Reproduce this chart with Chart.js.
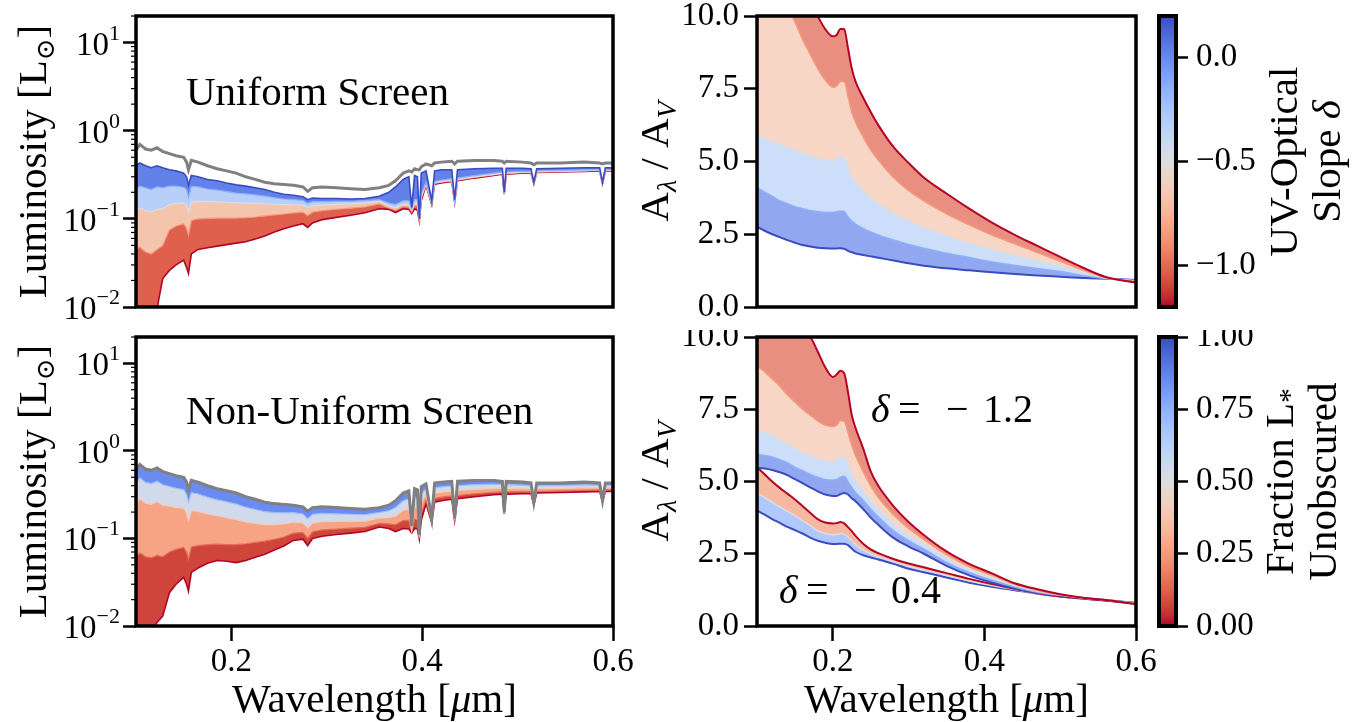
<!DOCTYPE html>
<html>
<head>
<meta charset="utf-8">
<script src="https://cdn.jsdelivr.net/npm/chart.js@4.4.1/dist/chart.umd.min.js"></script>
<style>
  body { margin: 0; background: #fff; }
  #fig { position: relative; width: 1368px; height: 722px; overflow: hidden; background: #fff; }
  #fig canvas { position: absolute; }
</style>
</head>
<body>
<div id="fig">
  <canvas id="uni" width="640" height="330" style="left:0;top:0"></canvas>
  <canvas id="non" width="640" height="392" style="left:0;top:330px"></canvas>
  <canvas id="slope" width="540" height="330" style="left:620px;top:0"></canvas>
  <canvas id="mix" width="540" height="392" style="left:620px;top:330px"></canvas>
  <canvas id="cbSlope" width="228" height="330" style="left:1140px;top:0"></canvas>
  <canvas id="cbFrac" width="228" height="392" style="left:1140px;top:330px"></canvas>
</div>
<script>
// ---- wavelength grid of the spectra (micron) ----
const WAVE = [
  0.100, 0.104, 0.110, 0.116, 0.122, 0.128, 0.135, 0.142, 0.150, 0.153,
  0.155, 0.158, 0.165, 0.175, 0.185, 0.195, 0.205, 0.215, 0.225, 0.235,
  0.245, 0.255, 0.265, 0.275, 0.280, 0.285, 0.295, 0.310, 0.325, 0.340,
  0.355, 0.365, 0.372, 0.380, 0.386, 0.389, 0.392, 0.395, 0.397, 0.399,
  0.404, 0.410, 0.413, 0.420, 0.431, 0.434, 0.437, 0.455, 0.475, 0.484,
  0.486, 0.488, 0.505, 0.514, 0.517, 0.520, 0.545, 0.570, 0.586, 0.589,
  0.592, 0.600
];

// intrinsic (grey) spectrum as drawn in the uniform panel, L_sun
const GRAY_UNI = [
  0.60, 0.70, 0.62, 0.60, 0.64, 0.58, 0.55, 0.52, 0.50, 0.44,
  0.36, 0.46, 0.44, 0.40, 0.37, 0.35, 0.33, 0.30, 0.28, 0.26,
  0.25, 0.245, 0.24, 0.23, 0.205, 0.225, 0.23, 0.225, 0.22, 0.215,
  0.225, 0.24, 0.27, 0.33, 0.35, 0.34, 0.37, 0.36, 0.36, 0.39,
  0.42, 0.40, 0.43, 0.44, 0.45, 0.42, 0.45, 0.46, 0.46, 0.45,
  0.43, 0.45, 0.44, 0.43, 0.41, 0.43, 0.43, 0.44, 0.43, 0.42,
  0.43, 0.43
];
// intrinsic spectrum as drawn in the non-uniform panel (absorption lines resolved)
const GRAY = [
  0.60, 0.70, 0.62, 0.60, 0.64, 0.58, 0.55, 0.52, 0.50, 0.44,
  0.36, 0.46, 0.44, 0.40, 0.37, 0.35, 0.33, 0.30, 0.28, 0.26,
  0.25, 0.245, 0.24, 0.23, 0.205, 0.225, 0.23, 0.225, 0.22, 0.215,
  0.225, 0.24, 0.27, 0.33, 0.35, 0.14, 0.37, 0.36, 0.11, 0.39,
  0.42, 0.17, 0.43, 0.44, 0.45, 0.17, 0.45, 0.46, 0.46, 0.45,
  0.20, 0.45, 0.44, 0.43, 0.26, 0.43, 0.43, 0.44, 0.43, 0.27,
  0.43, 0.43
];

// uniform screen, one spectrum per slope delta
const UNI_LEVELS = [0.2, -0.15, -0.5, -0.85, -1.2];
const UNI_P020 = [
  0.40, 0.43, 0.40, 0.38, 0.40, 0.38, 0.36, 0.35, 0.33, 0.30,
  0.24, 0.31, 0.30, 0.28, 0.27, 0.255, 0.243, 0.235, 0.225, 0.215,
  0.200, 0.190, 0.185, 0.178, 0.165, 0.172, 0.170, 0.170, 0.168, 0.170,
  0.180, 0.200, 0.230, 0.280, 0.300, 0.135, 0.310, 0.300, 0.100, 0.330,
  0.350, 0.160, 0.350, 0.360, 0.360, 0.165, 0.360, 0.370, 0.375, 0.375,
  0.200, 0.375, 0.375, 0.370, 0.260, 0.370, 0.375, 0.380, 0.380, 0.260,
  0.380, 0.380
];
const UNI_M015 = [
  0.220, 0.235, 0.225, 0.215, 0.230, 0.225, 0.235, 0.235, 0.228, 0.215,
  0.174, 0.233, 0.230, 0.218, 0.212, 0.204, 0.196, 0.192, 0.187, 0.181,
  0.173, 0.168, 0.165, 0.161, 0.149, 0.157, 0.157, 0.158, 0.158, 0.161,
  0.165, 0.151, 0.145, 0.160, 0.160, 0.128, 0.165, 0.165, 0.099, 0.190,
  0.260, 0.152, 0.265, 0.275, 0.285, 0.160, 0.290, 0.310, 0.330, 0.340,
  0.195, 0.340, 0.345, 0.345, 0.255, 0.350, 0.355, 0.360, 0.365, 0.255,
  0.365, 0.365
];
const UNI_M050 = [
  0.125, 0.132, 0.125, 0.120, 0.128, 0.130, 0.145, 0.150, 0.152, 0.140,
  0.120, 0.155, 0.158, 0.157, 0.156, 0.154, 0.152, 0.151, 0.150, 0.148,
  0.146, 0.145, 0.1445, 0.143, 0.133, 0.141, 0.143, 0.146, 0.148, 0.152,
  0.158, 0.141, 0.133, 0.147, 0.145, 0.124, 0.150, 0.150, 0.098, 0.180,
  0.250, 0.150, 0.257, 0.265, 0.275, 0.158, 0.280, 0.300, 0.320, 0.330,
  0.193, 0.330, 0.338, 0.338, 0.253, 0.343, 0.348, 0.353, 0.358, 0.253,
  0.358, 0.358
];
const UNI_M085 = [
  0.045, 0.048, 0.042, 0.040, 0.045, 0.050, 0.075, 0.083, 0.088, 0.078,
  0.065, 0.096, 0.100, 0.101, 0.102, 0.102, 0.102, 0.103, 0.105, 0.108,
  0.111, 0.1135, 0.117, 0.119, 0.109, 0.119, 0.124, 0.1285, 0.132, 0.137,
  0.148, 0.133, 0.125, 0.138, 0.136, 0.120, 0.140, 0.140, 0.097, 0.170,
  0.245, 0.148, 0.252, 0.260, 0.270, 0.156, 0.275, 0.295, 0.315, 0.325,
  0.191, 0.325, 0.334, 0.334, 0.251, 0.339, 0.344, 0.349, 0.354, 0.251,
  0.354, 0.354
];
const UNI_M120 = [
  0.008, 0.009, 0.008, 0.009, 0.0095, 0.021, 0.026, 0.030, 0.034, 0.028,
  0.024, 0.040, 0.045, 0.047, 0.049, 0.051, 0.053, 0.055, 0.059, 0.064,
  0.071, 0.077, 0.083, 0.088, 0.080, 0.090, 0.098, 0.104, 0.110, 0.117,
  0.130, 0.128, 0.118, 0.130, 0.128, 0.115, 0.130, 0.125, 0.095, 0.160,
  0.240, 0.145, 0.247, 0.255, 0.265, 0.154, 0.270, 0.290, 0.310, 0.320,
  0.190, 0.320, 0.330, 0.330, 0.250, 0.335, 0.340, 0.345, 0.350, 0.250,
  0.350, 0.350
];

// non-uniform screen, one spectrum per unobscured fraction (1.0 is GRAY)
const NON_LEVELS = [1, 0.7, 0.4, 0.15, 0];
const NON_F070 = [
  0.423, 0.493, 0.437, 0.423, 0.451, 0.410, 0.392, 0.373, 0.361, 0.317,
  0.260, 0.334, 0.322, 0.296, 0.276, 0.262, 0.247, 0.227, 0.214, 0.202,
  0.197, 0.196, 0.197, 0.190, 0.168, 0.188, 0.193, 0.191, 0.189, 0.187,
  0.198, 0.207, 0.225, 0.270, 0.283, 0.133, 0.298, 0.290, 0.106, 0.321,
  0.369, 0.164, 0.379, 0.389, 0.399, 0.167, 0.400, 0.412, 0.417, 0.411,
  0.197, 0.411, 0.406, 0.399, 0.254, 0.400, 0.402, 0.410, 0.405, 0.267,
  0.405, 0.405
];
const NON_F040 = [
  0.245, 0.285, 0.253, 0.245, 0.263, 0.240, 0.234, 0.226, 0.222, 0.194,
  0.159, 0.208, 0.204, 0.191, 0.182, 0.173, 0.164, 0.154, 0.149, 0.144,
  0.144, 0.147, 0.153, 0.151, 0.132, 0.150, 0.156, 0.157, 0.157, 0.158,
  0.171, 0.174, 0.180, 0.210, 0.217, 0.125, 0.226, 0.221, 0.103, 0.252,
  0.318, 0.158, 0.328, 0.338, 0.348, 0.164, 0.351, 0.364, 0.373, 0.372,
  0.194, 0.372, 0.371, 0.367, 0.248, 0.370, 0.373, 0.380, 0.379, 0.264,
  0.379, 0.379
];
const NON_F015 = [
  0.062, 0.068, 0.062, 0.060, 0.064, 0.062, 0.070, 0.075, 0.079, 0.070,
  0.058, 0.080, 0.083, 0.085, 0.086, 0.085, 0.085, 0.087, 0.090, 0.093,
  0.098, 0.104, 0.115, 0.117, 0.100, 0.119, 0.125, 0.128, 0.131, 0.134,
  0.149, 0.147, 0.143, 0.160, 0.161, 0.119, 0.166, 0.163, 0.100, 0.195,
  0.276, 0.153, 0.286, 0.296, 0.306, 0.162, 0.310, 0.324, 0.337, 0.340,
  0.192, 0.340, 0.342, 0.341, 0.243, 0.345, 0.349, 0.355, 0.358, 0.262,
  0.358, 0.358
];
const NON_F000 = [
  0.008, 0.008, 0.009, 0.0085, 0.011, 0.013, 0.024, 0.030, 0.036, 0.030,
  0.025, 0.041, 0.046, 0.052, 0.056, 0.055, 0.053, 0.056, 0.061, 0.066,
  0.074, 0.082, 0.095, 0.098, 0.083, 0.100, 0.106, 0.111, 0.115, 0.120,
  0.135, 0.130, 0.120, 0.130, 0.128, 0.115, 0.130, 0.128, 0.098, 0.160,
  0.250, 0.150, 0.260, 0.270, 0.280, 0.160, 0.285, 0.300, 0.315, 0.320,
  0.190, 0.320, 0.325, 0.325, 0.240, 0.330, 0.335, 0.340, 0.345, 0.260,
  0.345, 0.345
];

// ---- attenuation curves A_lambda / A_V ----
const AX_WAVE = [
  0.10, 0.11, 0.12, 0.13, 0.14, 0.15, 0.16, 0.17,
  0.18, 0.19, 0.20, 0.205, 0.21, 0.215, 0.22, 0.225,
  0.23, 0.24, 0.25, 0.26, 0.28, 0.30, 0.32, 0.35,
  0.38, 0.41, 0.44, 0.47, 0.50, 0.53, 0.56, 0.60
];
const SLOPE_LEVELS = [-1.2, -0.85, -0.5, -0.15, 0.2];
const SLOPE_M120 = [
  16, 15, 14, 13.3, 12.5, 11.8, 11.1, 10.5,
  10.0, 9.55, 9.3, 9.35, 9.55, 9.55, 8.9, 8.2,
  7.75, 7.2, 6.7, 6.25, 5.5, 4.95, 4.45, 3.9,
  3.38, 2.9, 2.48, 2.1, 1.72, 1.35, 1.03, 0.84
];
const SLOPE_M085 = [
  13, 12.2, 11.5, 10.9, 10.3, 9.8, 9.2, 8.7,
  8.2, 7.8, 7.55, 7.6, 7.75, 7.75, 7.25, 6.7,
  6.35, 5.85, 5.4, 5.05, 4.45, 4.0, 3.65, 3.2,
  2.82, 2.47, 2.17, 1.87, 1.57, 1.27, 1.02, 0.87
];
const SLOPE_M050 = [
  5.9, 5.8, 5.7, 5.6, 5.5, 5.4, 5.3, 5.2,
  5.12, 5.05, 5.05, 5.1, 5.18, 5.15, 4.85, 4.5,
  4.3, 4.0, 3.75, 3.55, 3.22, 2.97, 2.74, 2.45,
  2.2, 1.98, 1.78, 1.6, 1.42, 1.2, 1.0, 0.9
];
const SLOPE_M015 = [
  4.1, 3.95, 3.8, 3.65, 3.55, 3.45, 3.38, 3.32,
  3.28, 3.25, 3.25, 3.27, 3.3, 3.28, 3.1, 2.95,
  2.85, 2.7, 2.58, 2.48, 2.3, 2.15, 2.02, 1.85,
  1.7, 1.55, 1.43, 1.32, 1.22, 1.08, 0.98, 0.91
];
const SLOPE_P020 = [
  2.76, 2.62, 2.5, 2.4, 2.3, 2.21, 2.13, 2.08,
  2.04, 2.02, 2.01, 2.01, 2.02, 2.0, 1.93, 1.88,
  1.84, 1.79, 1.74, 1.69, 1.6, 1.5, 1.42, 1.33,
  1.26, 1.19, 1.13, 1.08, 1.04, 1.0, 0.97, 0.93
];

// mixed screens: delta = -1.2 family and delta = -0.4 family, by unobscured fraction
const MIX12_LEVELS = [0, 0.25, 0.5, 0.75, 1];
const MIX12_F000 = [
  13, 12.4, 11.8, 11.3, 10.8, 10.4, 10.1, 10.0,
  9.5, 8.95, 8.62, 8.7, 8.83, 8.75, 8.1, 7.3,
  6.85, 6.15, 5.35, 4.85, 4.15, 3.6, 3.15, 2.58,
  2.15, 1.82, 1.48, 1.27, 1.1, 0.98, 0.9, 0.76
];
const MIX12_F025 = [
  9.0, 8.8, 8.55, 8.3, 8.0, 7.75, 7.5, 7.3,
  7.1, 6.95, 6.9, 6.95, 7.1, 7.08, 6.7, 6.25,
  5.9, 5.35, 4.85, 4.45, 3.85, 3.38, 3.0, 2.47,
  2.05, 1.75, 1.44, 1.23, 1.08, 0.97, 0.9, 0.77
];
const MIX12_F050 = [
  6.8, 6.7, 6.6, 6.45, 6.3, 6.15, 6.0, 5.9,
  5.8, 5.72, 5.7, 5.75, 5.85, 5.85, 5.6, 5.3,
  5.05, 4.7, 4.35, 4.05, 3.55, 3.15, 2.85, 2.35,
  1.95, 1.67, 1.4, 1.2, 1.07, 0.97, 0.9, 0.78
];
const MIX12_F075 = [
  5.95, 5.9, 5.85, 5.75, 5.65, 5.5, 5.38, 5.25,
  5.15, 5.07, 5.05, 5.07, 5.15, 5.18, 5.0, 4.8,
  4.62, 4.35, 4.05, 3.78, 3.3, 2.95, 2.67, 2.2,
  1.85, 1.58, 1.35, 1.17, 1.06, 0.97, 0.9, 0.79
];
const MIX12_F100 = [
  5.47, 5.45, 5.4, 5.32, 5.22, 5.08, 4.94, 4.8,
  4.66, 4.55, 4.5, 4.5, 4.56, 4.6, 4.55, 4.42,
  4.32, 4.05, 3.75, 3.5, 3.05, 2.75, 2.5, 2.08,
  1.75, 1.5, 1.3, 1.15, 1.05, 0.97, 0.9, 0.8
];
const MIX04_LEVELS = [0, 0.5, 1];
const MIX04_F000 = [
  5.5, 5.25, 5.0, 4.78, 4.58, 4.38, 4.15, 3.92,
  3.7, 3.58, 3.55, 3.56, 3.6, 3.55, 3.42, 3.28,
  3.12, 2.85, 2.65, 2.52, 2.32, 2.16, 2.03, 1.83,
  1.63, 1.45, 1.29, 1.13, 1.02, 0.95, 0.88, 0.77
];
const MIX04_F050 = [
  4.6, 4.45, 4.28, 4.12, 3.97, 3.82, 3.65, 3.48,
  3.3, 3.2, 3.16, 3.17, 3.2, 3.18, 3.08, 2.95,
  2.82, 2.63, 2.5, 2.4, 2.23, 2.07, 1.94, 1.75,
  1.56, 1.4, 1.26, 1.12, 1.02, 0.95, 0.88, 0.78
];
const MIX04_F100 = [
  4.0, 3.85, 3.7, 3.57, 3.43, 3.32, 3.2, 3.06,
  2.95, 2.88, 2.84, 2.84, 2.85, 2.85, 2.8, 2.68,
  2.57, 2.45, 2.37, 2.3, 2.15, 1.98, 1.86, 1.68,
  1.5, 1.36, 1.24, 1.12, 1.02, 0.95, 0.88, 0.8
];

// ---- axes ----
const WAVE_RANGE = [0.1, 0.6];
const WAVE_TICKS = [0.2, 0.4, 0.6];
const LUM_RANGE = [0.01, 20];
const LUM_TICKS = [0.01, 0.1, 1, 10];
const RATIO_RANGE = [0, 10];
const RATIO_TICKS = [0, 2.5, 5, 7.5, 10];
const SLOPE_RANGE = [-1.2, 0.2];
const SLOPE_TICKS = [-1.0, -0.5, 0.0];
const FRAC_RANGE = [0, 1];
const FRAC_TICKS = [0, 0.25, 0.5, 0.75, 1];

const FONT = '"Liberation Serif", "DejaVu Serif", serif';

// coolwarm colour map
const COOLWARM = [
  [59,76,192],[68,90,204],[77,104,215],[87,117,225],[98,130,234],[108,142,241],[119,154,247],
  [130,165,251],[141,176,254],[152,185,255],[163,194,255],[174,201,253],[184,208,249],
  [194,213,244],[204,217,238],[213,219,230],[221,221,221],[229,216,209],[236,211,197],
  [241,204,185],[245,196,173],[247,187,160],[247,177,148],[247,166,135],[244,154,123],
  [241,141,111],[236,127,99],[229,112,88],[222,96,77],[213,80,66],[203,62,56],[192,40,47],[180,4,38]
];

function cmap(t, a = 1) {
  t = Math.min(1, Math.max(0, t)) * (COOLWARM.length - 1);
  const i = Math.min(Math.floor(t), COOLWARM.length - 2);
  const f = t - i;
  const c = COOLWARM[i].map((v, k) => Math.round(v + (COOLWARM[i + 1][k] - v) * f));
  return `rgba(${c[0]},${c[1]},${c[2]},${a})`;
}
const slopeColor = (d, a) => cmap(1 - (d - SLOPE_RANGE[0]) / (SLOPE_RANGE[1] - SLOPE_RANGE[0]), a);
const fracColor = (f, a) => cmap(1 - f, a);

// ── one family of curves, each band filled to the previous curve ──
function family(xs, curves, levels, colorOf, opt) {
  return curves.map((ys, i) => ({
    data: xs.map((x, j) => ({ x, y: ys[j] })),
    borderColor: colorOf(levels[i], 1),
    borderWidth: (i === 0 || i === curves.length - 1) ? opt.edge : opt.line,
    backgroundColor: i ? colorOf((levels[i - 1] + levels[i]) / 2, opt.alpha) : 'rgba(0,0,0,0)',
    fill: i ? '-1' : false,
    pointRadius: 0,
    tension: 0,
    cubicInterpolationMode: opt.smooth ? 'monotone' : 'default'
  }));
}

function grayLine(values) {
  return {
    data: WAVE.map((x, j) => ({ x, y: values[j] })),
    borderColor: '#808080', borderWidth: 3, pointRadius: 0, fill: false, tension: 0
  };
}

// ── drawing helpers ──
function drawParts(ctx, parts, x, y, angle) {
  ctx.save();
  ctx.translate(x, y);
  ctx.rotate(angle);
  ctx.textBaseline = 'alphabetic';
  ctx.textAlign = 'left';
  ctx.fillStyle = '#000';
  let total = 0;
  parts.forEach(p => {
    ctx.font = `${p.italic ? 'italic ' : ''}${p.size || 41}px ${FONT}`;
    p.w = ctx.measureText(p.t).width;
    total += p.w;
  });
  let cx = -total / 2;
  parts.forEach(p => {
    ctx.font = `${p.italic ? 'italic ' : ''}${p.size || 41}px ${FONT}`;
    ctx.fillText(p.t, cx, p.dy || 0);
    cx += p.w;
  });
  ctx.restore();
}

function frame(c, w = 3.5) {
  const a = c.chartArea, ctx = c.ctx;
  ctx.save();
  ctx.lineWidth = w;
  ctx.strokeStyle = '#000';
  ctx.strokeRect(a.left, a.top, a.right - a.left, a.bottom - a.top);
  ctx.restore();
}

function logAxis(c) {
  const s = c.scales.y, ctx = c.ctx, left = c.chartArea.left;
  ctx.save();
  ctx.strokeStyle = '#000';
  ctx.lineWidth = 1.2;
  for (let d = -2; d <= 1; d++) {
    for (let m = 2; m <= 9; m++) {
      const v = m * Math.pow(10, d);
      if (v > s.max) break;
      const y = s.getPixelForValue(v);
      ctx.beginPath(); ctx.moveTo(left - 5, y); ctx.lineTo(left, y); ctx.stroke();
    }
  }
  ctx.fillStyle = '#000';
  ctx.textBaseline = 'alphabetic';
  ctx.textAlign = 'left';
  const right = left - 16;
  LUM_TICKS.forEach(v => {
    const y = s.getPixelForValue(v);
    const e = Math.round(Math.log10(v));
    const sup = e < 0 ? '\u2212' + (-e) : String(e);
    ctx.font = `33px ${FONT}`;
    const w1 = ctx.measureText('10').width;
    ctx.font = `22px ${FONT}`;
    const w2 = ctx.measureText(sup).width;
    ctx.font = `33px ${FONT}`;
    ctx.fillText('10', right - w2 - w1, y + 12);
    ctx.font = `22px ${FONT}`;
    ctx.fillText(sup, right - w2, y - 3);
  });
  ctx.restore();
}

const LUM_TITLE = [{ t: 'Luminosity [L' }, { t: '\u2299', size: 26, dy: 8 }, { t: ']' }];
const RATIO_TITLE = [{ t: 'A' }, { t: '\u03bb', size: 28, dy: 8, italic: true }, { t: ' / A' }, { t: 'V', size: 28, dy: 8, italic: true }];
const WAVE_TITLE = [{ t: 'Wavelength [' }, { t: '\u03bc', italic: true }, { t: 'm]' }];

function midY(c) { return (c.chartArea.top + c.chartArea.bottom) / 2; }
function midX(c) { return (c.chartArea.left + c.chartArea.right) / 2; }

function panel(id, o) {
  const logY = o.yType === 'logarithmic';
  return new Chart(document.getElementById(id), {
    type: 'line',
    data: { datasets: o.datasets },
    options: {
      animation: false,
      responsive: false,
      devicePixelRatio: 1,
      layout: { padding: o.pad },
      plugins: { legend: { display: false }, tooltip: { enabled: false } },
      scales: {
        x: {
          type: 'linear', min: WAVE_RANGE[0], max: WAVE_RANGE[1], display: o.showX,
          afterBuildTicks: s => { s.ticks = WAVE_TICKS.map(value => ({ value })); },
          afterFit: s => { s.height = o.xHeight; s.paddingLeft = 0; s.paddingRight = 0; },
          border: { display: false },
          grid: { drawOnChartArea: false, tickLength: 15, tickWidth: 2.5, tickColor: '#000' },
          ticks: { color: '#000', font: { family: FONT, size: 33 }, padding: 2, maxRotation: 0, autoSkip: false,
                   callback: v => v.toFixed(1) }
        },
        y: {
          type: o.yType, min: o.yRange[0], max: o.yRange[1],
          afterBuildTicks: s => { s.ticks = o.yTicks.map(value => ({ value })); },
          afterFit: s => { s.width = o.yWidth; s.paddingTop = 0; s.paddingBottom = 0; },
          border: { display: false },
          grid: { drawOnChartArea: false, tickLength: 13, tickWidth: 2.5, tickColor: '#000' },
          ticks: { display: !logY, color: '#000', font: { family: FONT, size: 33 }, padding: 5, autoSkip: false,
                   callback: v => v.toFixed(1) }
        }
      }
    },
    plugins: [{ id: 'decor', afterDraw: c => { frame(c); o.decor(c); } }]
  });
}

function colorbar(id, o) {
  return new Chart(document.getElementById(id), {
    type: 'bar',
    data: {
      labels: [''],
      datasets: [{
        data: [[o.range[0], o.range[1]]],
        borderWidth: 0,
        barPercentage: 1,
        categoryPercentage: 1,
        backgroundColor: ctx => {
          const a = ctx.chart.chartArea;
          if (!a) return cmap(1);
          const g = ctx.chart.ctx.createLinearGradient(0, a.bottom, 0, a.top);
          for (let k = 0; k < COOLWARM.length; k++) {
            const s = k / (COOLWARM.length - 1);
            g.addColorStop(s, cmap(1 - s));
          }
          return g;
        }
      }]
    },
    options: {
      animation: false,
      responsive: false,
      devicePixelRatio: 1,
      layout: { padding: o.pad },
      plugins: { legend: { display: false }, tooltip: { enabled: false } },
      scales: {
        x: { display: false },
        y: {
          position: 'right', min: o.range[0], max: o.range[1],
          afterBuildTicks: s => { s.ticks = o.ticks.map(value => ({ value })); },
          afterFit: s => { s.width = o.width; s.paddingTop = 0; s.paddingBottom = 0; },
          border: { display: false },
          grid: { drawOnChartArea: false, tickLength: 12, tickWidth: 2.5, tickColor: '#000' },
          ticks: { color: '#000', font: { family: FONT, size: 33 }, padding: 8, autoSkip: false, callback: o.fmt }
        }
      }
    },
    plugins: [{ id: 'decor', afterDraw: c => {
      frame(c, 4);
      drawParts(c.ctx, o.title1, o.titleX[0], midY(c), -Math.PI / 2);
      drawParts(c.ctx, o.title2, o.titleX[1], midY(c), -Math.PI / 2);
    } }]
  });
}

// ==========================================
// panels
// ==========================================
panel('uni', {
  yType: 'logarithmic', yRange: LUM_RANGE, yTicks: LUM_TICKS,
  showX: false, yWidth: 136, xHeight: 0,
  pad: { top: 16, right: 27, bottom: 23, left: 0 },
  datasets: [
    ...family(WAVE, [UNI_P020, UNI_M015, UNI_M050, UNI_M085, UNI_M120], UNI_LEVELS, slopeColor,
              { edge: 1.6, line: 1.2, alpha: 1, smooth: false }),
    grayLine(GRAY_UNI)
  ],
  decor: c => {
    logAxis(c);
    drawParts(c.ctx, LUM_TITLE, 46, midY(c), -Math.PI / 2);
    const ctx = c.ctx;
    ctx.save();
    ctx.font = `41px ${FONT}`; ctx.fillStyle = '#000'; ctx.textAlign = 'left'; ctx.textBaseline = 'alphabetic';
    ctx.fillText('Uniform Screen', c.chartArea.left + 50, c.chartArea.top + 89);
    ctx.restore();
  }
});

panel('non', {
  yType: 'logarithmic', yRange: LUM_RANGE, yTicks: LUM_TICKS,
  showX: true, yWidth: 136, xHeight: 96,
  pad: { top: 7, right: 27, bottom: 0, left: 0 },
  datasets: [
    grayLine(GRAY),
    ...family(WAVE, [GRAY, NON_F070, NON_F040, NON_F015, NON_F000], NON_LEVELS, fracColor,
              { edge: 1.6, line: 1.2, alpha: 1, smooth: false })
  ],
  decor: c => {
    logAxis(c);
    drawParts(c.ctx, LUM_TITLE, 46, midY(c), -Math.PI / 2);
    drawParts(c.ctx, WAVE_TITLE, midX(c), 382, 0);
    const ctx = c.ctx;
    ctx.save();
    ctx.font = `41px ${FONT}`; ctx.fillStyle = '#000'; ctx.textAlign = 'left'; ctx.textBaseline = 'alphabetic';
    ctx.fillText('Non-Uniform Screen', c.chartArea.left + 50, c.chartArea.top + 87);
    ctx.restore();
  }
});

panel('slope', {
  yType: 'linear', yRange: RATIO_RANGE, yTicks: RATIO_TICKS,
  showX: false, yWidth: 137, xHeight: 0,
  pad: { top: 16, right: 24, bottom: 23, left: 0 },
  datasets: family(AX_WAVE, [SLOPE_M120, SLOPE_M085, SLOPE_M050, SLOPE_M015, SLOPE_P020], SLOPE_LEVELS, slopeColor,
                   { edge: 2, line: 1.5, alpha: 0.7, smooth: true }),
  decor: c => {
    drawParts(c.ctx, RATIO_TITLE, 48, midY(c), -Math.PI / 2);
  }
});

function delta(ctx, a, dx, dy, value) {
  ctx.save();
  ctx.fillStyle = '#000'; ctx.textAlign = 'left'; ctx.textBaseline = 'alphabetic';
  ctx.font = `italic 40px ${FONT}`;
  ctx.fillText('\u03b4', a.left + dx, a.top + dy);
  ctx.font = `40px ${FONT}`;
  ctx.fillText('=', a.left + dx + 27, a.top + dy);
  ctx.fillText('\u2212', a.left + dx + 75, a.top + dy);
  ctx.fillText(value, a.left + dx + 112, a.top + dy);
  ctx.restore();
}

panel('mix', {
  yType: 'linear', yRange: RATIO_RANGE, yTicks: RATIO_TICKS,
  showX: true, yWidth: 137, xHeight: 96,
  pad: { top: 7, right: 24, bottom: 0, left: 0 },
  datasets: [
    ...family(AX_WAVE, [MIX12_F000, MIX12_F025, MIX12_F050, MIX12_F075, MIX12_F100], MIX12_LEVELS, fracColor,
              { edge: 2, line: 1.5, alpha: 0.7, smooth: true }),
    ...family(AX_WAVE, [MIX04_F000, MIX04_F050, MIX04_F100], MIX04_LEVELS, fracColor,
              { edge: 2, line: 1.5, alpha: 0.7, smooth: true })
  ],
  decor: c => {
    drawParts(c.ctx, RATIO_TITLE, 48, midY(c), -Math.PI / 2);
    drawParts(c.ctx, WAVE_TITLE, midX(c), 382, 0);
    delta(c.ctx, c.chartArea, 114, 85, '1.2');
    delta(c.ctx, c.chartArea, 22, 266, '0.4');
  }
});

colorbar('cbSlope', {
  range: SLOPE_RANGE, ticks: SLOPE_TICKS, width: 192,
  pad: { top: 16, left: 19, bottom: 23, right: 0 },
  fmt: v => (v < 0 ? '\u2212' : '') + Math.abs(v).toFixed(1),
  title1: [{ t: 'UV-Optical' }],
  title2: [{ t: 'Slope ' }, { t: '\u03b4', italic: true }],
  titleX: [157, 200]
});

colorbar('cbFrac', {
  range: FRAC_RANGE, ticks: FRAC_TICKS, width: 192,
  pad: { top: 7, left: 19, bottom: 96, right: 0 },
  fmt: v => v.toFixed(2),
  title1: [{ t: 'Fraction L' }, { t: '*', size: 30, dy: 6 }],
  title2: [{ t: 'Unobscured' }],
  titleX: [153, 196]
});
</script>
</body>
</html>
